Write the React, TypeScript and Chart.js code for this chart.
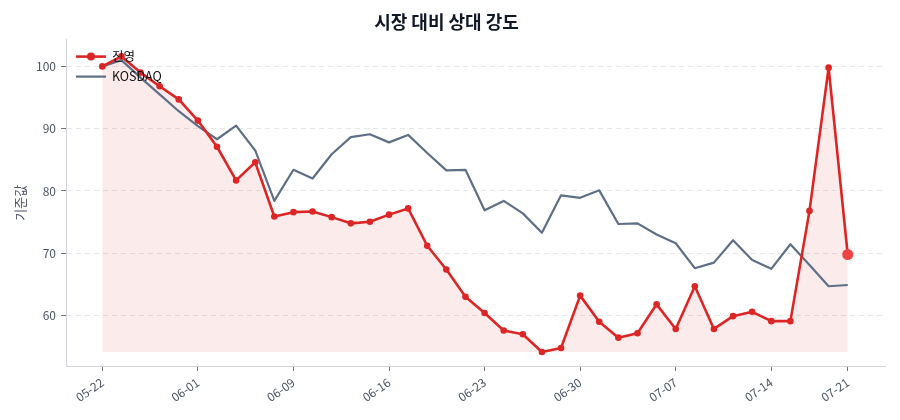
import React, { useEffect, useRef } from "react";
import { Chart, registerables } from "chart.js";

Chart.register(...registerables);

const dateLabels = [
  "05-22", "05-23", "05-26", "05-27", "05-29", "06-01", "06-02", "06-04", "06-05", "06-08",
  "06-09", "06-10", "06-11", "06-12", "06-13", "06-16", "06-17", "06-18", "06-19", "06-20",
  "06-23", "06-24", "06-25", "06-26", "06-27", "06-30", "07-01", "07-02", "07-03", "07-04",
  "07-07", "07-08", "07-09", "07-10", "07-11", "07-14", "07-15", "07-16", "07-17", "07-21",
];

const jinyoung = [
  100.0, 101.6, 99.0, 96.8, 94.7, 91.3, 87.1, 81.7, 84.6, 75.9,
  76.6, 76.7, 75.8, 74.8, 75.05, 76.2, 77.2, 71.2, 67.4, 63.0,
  60.4, 57.6, 57.0, 54.15, 54.8, 63.2, 59.0, 56.45, 57.15, 61.8,
  57.85, 64.7, 57.85, 59.9, 60.6, 59.1, 59.1, 76.8, 99.8, 69.8,
];

const kosdaq = [
  100.0, 101.0, 98.2, 95.5, 92.8, 90.4, 88.3, 90.5, 86.5, 78.4,
  83.4, 82.0, 85.9, 88.65, 89.1, 87.8, 89.0, 86.1, 83.3, 83.4,
  76.9, 78.4, 76.4, 73.3, 79.3, 78.9, 80.1, 74.7, 74.8, 73.0,
  71.6, 67.6, 68.5, 72.1, 68.9, 67.5, 71.45, 68.1, 64.7, 64.9,
];

const tickIndexes = [0, 5, 10, 15, 20, 25, 30, 35, 39];
const yTicks = [60, 70, 80, 90, 100];

const seriesNames = ["진영", "KOSDAQ"];
const RED = "#dc2626";
const SLATE = "#5f6f86";

const cornerLegend = {
  id: "cornerLegend",
  afterDatasetsDraw(chart: any) {
    const { ctx, chartArea } = chart;
    const x0 = chartArea.left + 10;
    const items = chart.data.datasets;
    ctx.save();
    items.forEach((ds: any, i: number) => {
      const y = chartArea.top + 17 + i * 20;
      ctx.strokeStyle = ds.borderColor;
      ctx.lineWidth = ds.borderWidth;
      ctx.beginPath();
      ctx.moveTo(x0, y);
      ctx.lineTo(x0 + 30, y);
      ctx.stroke();
      if (ds.legendMarker) {
        ctx.fillStyle = ds.borderColor;
        ctx.beginPath();
        ctx.arc(x0 + 15, y, 4, 0, Math.PI * 2);
        ctx.fill();
      }
      ctx.fillStyle = "#111111";
      ctx.font = "12.5px 'Noto Sans CJK KR', 'Noto Sans', sans-serif";
      ctx.textBaseline = "middle";
      ctx.textAlign = "left";
      ctx.fillText(ds.label, x0 + 36, y);
    });
    ctx.restore();
  },
};

export default function App() {
  const canvasRef = useRef<HTMLCanvasElement | null>(null);

  useEffect(() => {
    document.body.style.margin = "0";
    const canvas = canvasRef.current;
    if (!canvas) return;
    Chart.defaults.font.family = "'Noto Sans CJK KR', 'Noto Sans', sans-serif";

    const lastIdx = jinyoung.length - 1;
    const fillBase = Math.min(...jinyoung);

    const chart = new Chart(canvas, {
      type: "line",
      data: {
        datasets: [
          {
            label: seriesNames[0],
            data: jinyoung.map((v, i) => ({ x: i, y: v })),
            borderColor: RED,
            backgroundColor: "rgba(220,38,38,0.09)",
            borderWidth: 2.6,
            borderJoinStyle: "round",
            pointRadius: jinyoung.map((_, i) => (i === lastIdx ? 5.5 : 3.3)),
            pointBackgroundColor: jinyoung.map((_, i) => (i === lastIdx ? "#ef4444" : RED)),
            pointBorderWidth: 0,
            pointHoverRadius: 5,
            fill: { value: fillBase },
            tension: 0,
            legendMarker: true,
          } as any,
          {
            label: seriesNames[1],
            data: kosdaq.map((v, i) => ({ x: i, y: v })),
            borderColor: SLATE,
            borderWidth: 2.2,
            borderJoinStyle: "round",
            pointRadius: 0,
            fill: false,
            tension: 0,
          },
        ],
      },
      options: {
        animation: false,
        responsive: true,
        maintainAspectRatio: false,
        layout: { padding: { left: 8, right: 15, top: 0, bottom: 0 } },
        plugins: {
          legend: { display: false },
          tooltip: { enabled: false },
          filler: { drawTime: "beforeDatasetsDraw" },
          title: {
            display: true,
            text: "시장 대비 상대 강도",
            color: "#111827",
            font: { size: 18, weight: "bold" },
            padding: { top: 11, bottom: 7 },
          },
        },
        scales: {
          x: {
            type: "linear",
            min: -1.9,
            max: 40.95,
            afterBuildTicks: (scale: any) => {
              scale.ticks = tickIndexes.map((v) => ({ value: v }));
            },
            afterFit: (scale: any) => {
              scale.height = 54;
            },
            ticks: {
              autoSkip: false,
              maxRotation: 35,
              minRotation: 35,
              color: "#4b5563",
              font: { size: 12 },
              padding: 4,
              callback: (v: any) => dateLabels[v as number] ?? "",
            },
            grid: {
              drawOnChartArea: false,
              drawTicks: true,
              tickLength: 5,
              tickColor: "#6b7280",
            },
            border: { display: true, color: "#d1d5db", width: 1 },
          },
          y: {
            type: "linear",
            min: 51.9,
            max: 104.3,
            afterBuildTicks: (scale: any) => {
              scale.ticks = yTicks.map((v) => ({ value: v }));
            },
            afterFit: (scale: any) => {
              scale.width = 58;
            },
            title: {
              display: true,
              text: "기준값",
              color: "#4b5563",
              font: { size: 13 },
              padding: { top: 4, bottom: 0 },
            },
            ticks: {
              color: "#4b5563",
              font: { size: 12 },
              padding: 5,
            },
            grid: {
              color: "#e5e7eb",
              borderDash: [5, 4],
              drawTicks: true,
              tickLength: 5,
              tickColor: "#6b7280",
              tickBorderDash: [],
            } as any,
            border: { display: true, color: "#d1d5db", width: 1, dash: [5, 4] } as any,
          },
        },
      },
      plugins: [cornerLegend],
    });

    return () => chart.destroy();
  }, []);

  return (
    <div style={{ width: "900px", height: "420px", position: "relative" }}>
      <canvas ref={canvasRef} />
    </div>
  );
}
